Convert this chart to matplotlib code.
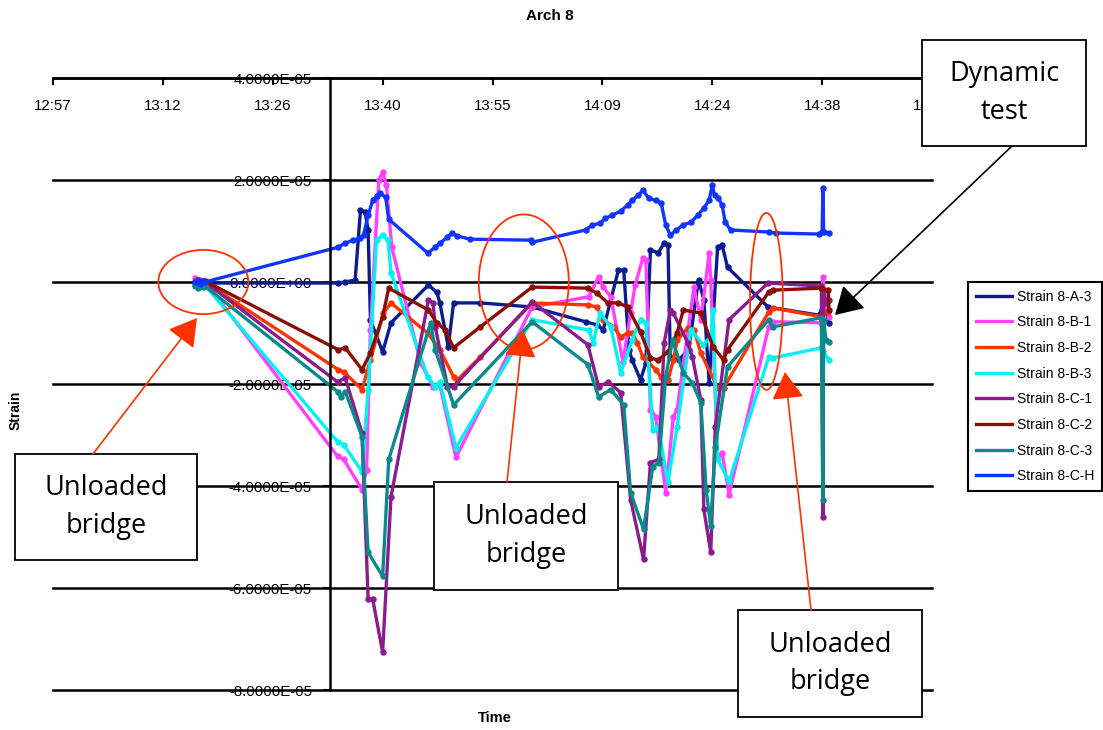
import numpy as np
import matplotlib.pyplot as plt
from matplotlib.patches import Ellipse, Rectangle, FancyArrowPatch
from matplotlib.lines import Line2D
from matplotlib.ticker import FuncFormatter

# time in minutes after midnight, strain in microstrain
t_a3 = [796.2, 796.6, 796.9, 797.3, 797.5, 814.9, 815.9, 817.2, 817.9, 818.5, 818.9, 819.2, 820.8, 821.9, 826.8,
        827.9, 828.3, 829.4, 830.1, 833.6, 840.4, 847.4, 848.9, 849.7, 851.7, 852.4, 853.1, 853.5, 854.6, 855.3,
        855.9, 856.9, 857.7, 858.2, 858.5, 859.6, 860.9, 862.2, 862.9, 863.6, 864.7, 865.3, 866.0, 871.3, 878.0,
        878.5, 878.9, 879.3]
s_a3 = [-0.2, 0.2, -0.2, 0, -0.2, -0.2, 0, 0.4, 14.1, 13.7, 10.2, -7.4, -13.7, -8.0, -0.6,
        -2.0, -4.1, -12.7, -4.1, -4.1, -4.9, -7.8, -8.4, -9.4, 2.3, 2.3, -13.3, -15.3, -19.2, -15.9,
        6.3, 5.7, 7.6, 7.2, -14.7, -15.3, -13.3, 0.4, -3.5, -19.8, 6.8, 7.2, 2.9, -4.9, -6.5,
        -4.5, -5.5, -8.0]

t_b1 = [796.2, 796.6, 796.9, 797.3, 797.5, 814.9, 815.7, 818.1, 818.7, 819.2, 820.3, 820.8, 821.3, 822.0, 825.8,
        827.4, 828.3, 830.4, 840.4, 847.8, 849.1, 849.7, 850.7, 852.3, 853.3, 853.9, 854.9, 855.3, 855.9, 856.6,
        857.9, 858.9, 859.4, 861.6, 862.5, 863.6, 863.8, 864.7, 865.3, 866.2, 871.4, 871.9, 878.3, 878.5, 878.9,
        879.3]
s_b1 = [0.8, -0.4, 0.4, -0.2, 0.2, -34.2, -34.8, -40.7, -36.8, -9.4, 20.0, 21.5, 19.0, 6.8, -15.9,
        -20.5, -20.2, -34.4, -4.9, -2.9, 1.0, -1.0, -2.9, -15.7, -6.1, -0.6, 4.7, 4.3, -25.0, -26.4,
        -41.3, -26.4, -25.0, -1.0, -7.4, 5.7, 0.4, -34.2, -33.5, -41.7, -8.8, -7.8, -8.0, 1.0, -4.9,
        -6.8]

t_b2 = [796.2, 796.6, 796.9, 797.3, 797.5, 815.0, 815.7, 818.1, 819.2, 820.9, 821.9, 826.7, 828.3, 830.1, 830.6,
        833.6, 840.4, 847.7, 848.9, 849.7, 851.1, 852.0, 852.9, 853.5, 854.2, 854.9, 856.6, 857.3, 858.2, 858.9,
        859.4, 860.8, 861.6, 862.5, 864.7, 865.5, 871.4, 871.9, 878.3, 879.2]
s_b2 = [0.2, -0.2, 0, -0.4, 0, -17.2, -17.6, -21.1, -15.3, -6.1, -4.1, -10.0, -13.3, -18.6, -19.2,
        -14.7, -4.1, -4.5, -4.9, -7.4, -8.8, -10.8, -10.0, -10.0, -11.9, -14.7, -17.2, -18.6, -19.2, -15.3,
        -11.4, -9.0, -9.4, -13.9, -20.7, -20.7, -5.9, -5.1, -6.8, -5.9]

t_b3 = [796.2, 796.6, 796.9, 797.3, 797.5, 814.9, 815.7, 818.1, 818.9, 820.0, 820.8, 821.5, 821.9, 826.7, 827.7,
        828.3, 830.4, 840.4, 847.8, 848.4, 849.3, 850.7, 852.0, 853.5, 854.6, 855.3, 856.2, 856.9, 858.2, 859.4,
        861.2, 862.8, 863.8, 864.1, 864.7, 866.2, 871.4, 871.9, 878.3, 878.5, 879.3]
s_b3 = [-0.6, -1.0, -0.4, -0.8, -0.6, -31.3, -31.9, -37.2, -21.1, 8.2, 9.2, 8.2, 1.8, -18.6, -20.5,
        -19.6, -32.5, -7.4, -9.4, -11.9, -6.1, -8.8, -17.8, -11.4, -7.4, -8.0, -29.0, -28.4, -39.3, -28.4,
        -9.4, -12.3, -10.8, -5.5, -34.8, -39.1, -14.7, -14.9, -12.9, -13.5, -15.3]

t_c1 = [796.2, 796.6, 796.9, 797.3, 797.5, 814.9, 815.9, 818.1, 818.9, 819.5, 820.8, 821.9, 826.8, 827.4, 827.7,
        829.3, 830.1, 840.4, 847.7, 849.1, 850.4, 852.0, 853.3, 855.0, 855.9, 857.0, 857.7, 858.5, 858.9, 860.8,
        861.4, 862.5, 862.9, 863.8, 864.4, 866.2, 871.3, 878.3, 878.5, 878.6, 878.9, 879.3]
s_c1 = [0, 0.4, -0.2, 0.2, 0, -19.6, -18.8, -29.6, -62.2, -62.2, -72.6, -42.1, -3.5, -4.1, -8.8,
        -20.5, -20.5, -3.9, -12.3, -20.5, -19.6, -21.7, -42.7, -54.4, -35.4, -34.8, -11.9, -5.5, -6.1, -11.9,
        -14.7, -23.1, -44.6, -53.0, -28.4, -7.4, -0.2, -0.8, -46.0, -1.6, -4.1, -3.5]

t_c2 = [796.2, 796.6, 796.9, 797.3, 797.5, 815.0, 815.9, 818.1, 819.2, 820.8, 821.6, 826.8, 827.9, 829.0, 830.1,
        833.6, 840.4, 847.7, 848.9, 850.3, 851.7, 852.9, 854.6, 855.9, 856.9, 858.2, 859.4, 860.2, 862.5, 864.1,
        865.5, 866.0, 871.4, 871.9, 878.3, 879.2, 879.3]
s_c2 = [0, 0.2, -0.2, 0, 0.2, -13.3, -12.9, -17.2, -13.9, -6.8, -1.2, -5.5, -8.0, -9.4, -12.9,
        -8.8, -1.0, -1.2, -2.2, -4.1, -4.1, -4.9, -9.8, -14.9, -15.3, -13.7, -10.0, -5.5, -6.1, -12.7,
        -15.3, -13.3, -2.0, -1.6, -1.2, -1.6, -5.5]

t_c3 = [796.2, 796.6, 796.9, 797.3, 797.5, 814.9, 815.3, 815.9, 818.1, 818.9, 820.8, 821.6, 827.1, 827.7, 830.1,
        840.4, 847.7, 849.1, 850.7, 852.4, 853.3, 855.0, 856.2, 857.0, 857.9, 858.8, 860.2, 861.4, 862.5, 863.2,
        863.8, 864.4, 866.0, 871.4, 871.9, 878.3, 878.5, 878.6, 878.9, 879.3]
s_c3 = [-0.8, -1.2, -0.6, -1.0, -0.8, -21.5, -22.5, -21.5, -30.3, -53.0, -57.7, -34.8, -8.0, -13.3, -24.1,
        -7.8, -16.2, -22.5, -21.1, -24.1, -41.3, -48.5, -36.2, -35.4, -18.6, -11.4, -17.8, -19.8, -23.7, -40.7,
        -47.9, -32.3, -16.6, -7.4, -8.8, -7.0, -42.7, -7.4, -11.4, -11.7]

t_ch = [796.2, 796.6, 796.9, 797.3, 797.5, 814.9, 815.9, 816.9, 817.9, 818.3, 818.9, 819.5, 820.0, 820.5, 821.2,
        821.6, 826.7, 827.7, 828.3, 829.3, 829.9, 830.6, 832.3, 840.2, 840.4, 847.4, 848.3, 849.3, 850.0, 850.9,
        852.0, 852.9, 853.5, 854.3, 854.9, 855.7, 856.6, 857.3, 857.9, 858.5, 859.3, 860.2, 861.2, 862.1, 862.9,
        863.6, 864.0, 864.3, 864.8, 865.3, 865.7, 866.4, 871.4, 872.3, 878.0, 878.4, 878.5, 878.6, 879.3]
s_ch = [0, 0.4, -0.4, 0.2, 0, 6.8, 7.6, 8.2, 8.6, 9.2, 13.1, 16.0, 16.8, 17.4, 16.6,
        12.3, 5.7, 6.8, 7.6, 8.8, 9.6, 9.0, 8.4, 8.2, 7.8, 10.2, 11.2, 11.5, 12.5, 13.1,
        13.9, 15.1, 16.0, 17.0, 18.0, 16.4, 16.0, 15.5, 11.2, 9.2, 10.2, 11.2, 11.7, 13.1, 14.5,
        16.0, 19.0, 17.0, 16.4, 15.1, 11.7, 10.2, 9.8, 9.6, 9.4, 9.8, 18.4, 9.8, 9.6]

names = ['Strain 8-A-3', 'Strain 8-B-1', 'Strain 8-B-2', 'Strain 8-B-3',
         'Strain 8-C-1', 'Strain 8-C-2', 'Strain 8-C-3', 'Strain 8-C-H']
colors = ['#0A1C90', '#FF40FF', '#FF3300', '#00F2F2',
          '#8B1C8E', '#8B0E04', '#0A8A8A', '#1035FF']
series = [(t_a3, s_a3), (t_b1, s_b1), (t_b2, s_b2), (t_b3, s_b3),
          (t_c1, s_c1), (t_c2, s_c2), (t_c3, s_c3), (t_ch, s_ch)]

tick_labels = ['12:57', '13:12', '13:26', '13:40', '13:55', '14:09', '14:24', '14:38', '14:52']
y_ticks = [-8e-5, -6e-5, -4e-5, -2e-5, 0.0, 2e-5, 4e-5]

W, H = 1103, 730
plt.rcParams['font.family'] = 'Liberation Sans'
fig = plt.figure(figsize=(W / 100, H / 100), dpi=100)
ax = fig.add_axes([53 / W, 1 - 690 / H, 879 / W, 612 / H])

for (t, s), name, c in zip(series, names, colors):
    ax.plot(t, np.array(s) * 1e-6, color=c, lw=2.4, marker='o', ms=3.6,
            solid_joinstyle='round', zorder=2)

for y in y_ticks:
    ax.axhline(y, color='black', lw=1.8, zorder=0.6, clip_on=False)

ax.set_xlim(777.6, 892.8)
ax.set_ylim(-8e-5, 4e-5)
ax.set_xticks([777.6 + 14.4 * k for k in range(len(tick_labels))])
ax.set_xticklabels(tick_labels)
ax.set_yticks(y_ticks)
ax.yaxis.set_major_formatter(FuncFormatter(lambda v, p: f'{v:.4E}'))

ax.spines['top'].set_visible(False)
ax.spines['right'].set_visible(False)
ax.spines['left'].set_position(('data', 813.9))
ax.spines['bottom'].set_position(('data', 4e-5))
for sp in ('left', 'bottom'):
    ax.spines[sp].set_linewidth(1.8)
ax.set_axisbelow(True)
ax.tick_params(axis='x', direction='out', length=5, width=1.5, pad=10, labelsize=10.8)
ax.tick_params(axis='y', direction='out', length=5, width=1.5, pad=8, labelsize=10.8)
ax.patch.set_visible(False)

# red ellipses around unloaded readings
for cx, cy, w, h in [(797.3, 0.0, 11.8, 1.26e-5), (839.3, 0.0, 11.8, 2.65e-5), (871.1, -0.38e-5, 4.3, 3.47e-5)]:
    ax.add_patch(Ellipse((cx, cy), w, h, fill=False, ec='#FF3300', lw=1.3, zorder=5))

fig.text(550 / W, 1 - 16 / H, 'Arch 8', ha='center', va='center', fontsize=11, fontweight='bold')
fig.text(16 / W, 1 - 410 / H, 'Strain', ha='center', va='center', rotation=90, fontsize=10, fontweight='bold')
fig.text(495 / W, 1 - 718 / H, 'Time', ha='center', va='center', fontsize=10.5, fontweight='bold')

# callout boxes
boxes = [(15, 454, 197, 560, 'Unloaded\nbridge'), (434, 482, 618, 590, 'Unloaded\nbridge'),
         (738, 610, 922, 717, 'Unloaded\nbridge'), (922, 40, 1086, 146, 'Dynamic\ntest')]
for x0, y0, x1, y1, txt in boxes:
    fig.add_artist(Rectangle((x0 / W, 1 - y1 / H), (x1 - x0) / W, (y1 - y0) / H, transform=fig.transFigure,
                             fc='white', ec='black', lw=1.3, zorder=6))
    fig.text((x0 + x1) / 2 / W, 1 - (y0 + y1) / 2 / H, txt, ha='center', va='center', fontsize=19.5,
             family='Open Sans', linespacing=1.45, zorder=7)

arrows = [((93, 454), (197, 318), '#FF3300'), ((507, 482), (523, 330), '#FF3300'),
          ((811, 610), (785, 372), '#FF3300'), ((1012, 146), (835, 315), 'black')]
for (xa, ya), (xb, yb), c in arrows:
    fig.add_artist(FancyArrowPatch((xa / W, 1 - ya / H), (xb / W, 1 - yb / H), transform=fig.transFigure,
                                   arrowstyle='-|>,head_length=0.85,head_width=0.5', mutation_scale=20,
                                   color=c, lw=1.2, shrinkA=0, shrinkB=0, zorder=8))

handles = [Line2D([], [], color=c, lw=2.4) for c in colors]
leg = fig.legend(handles, names, loc='upper left', bbox_to_anchor=(968 / W, 1 - 282 / H), borderaxespad=0,
                 fontsize=10, frameon=True, fancybox=False, edgecolor='black', framealpha=1,
                 handlelength=2.6, handletextpad=0.4, labelspacing=0.84, borderpad=0.55)
leg.get_frame().set_linewidth(1.5)

fig.savefig('out.png', dpi=100)
